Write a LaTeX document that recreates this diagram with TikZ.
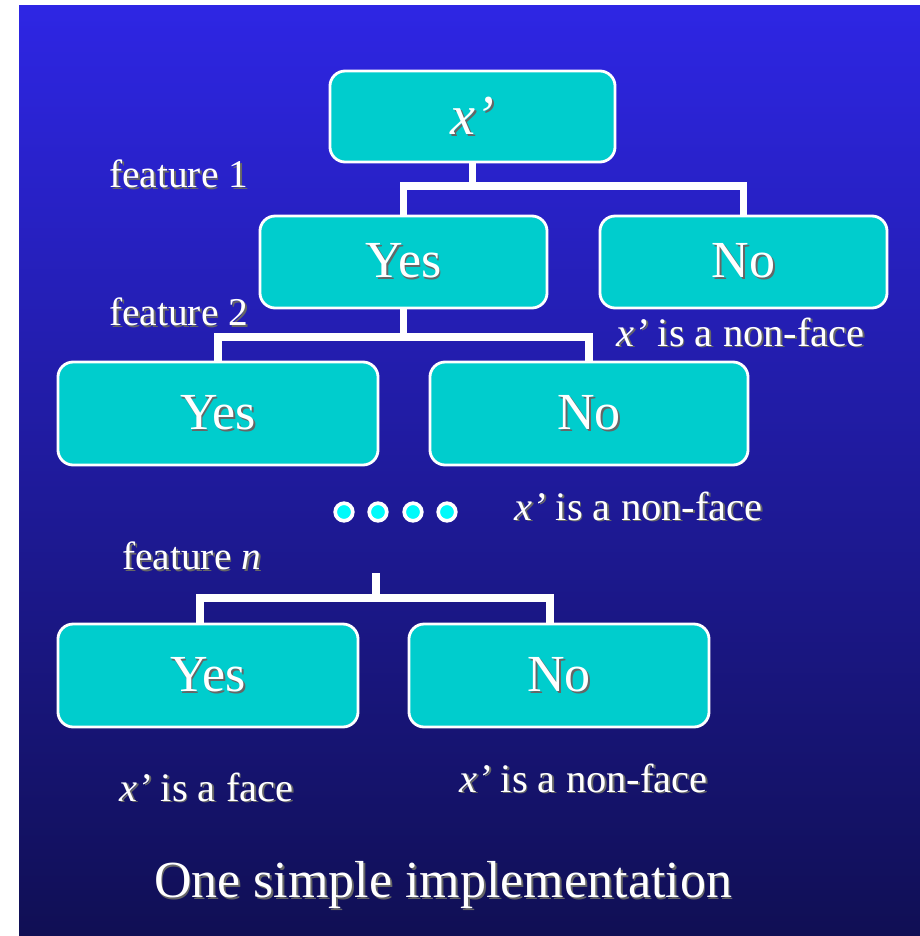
\documentclass[tikz,border=0pt]{standalone}
\usepackage{fontspec}
\setmainfont{Liberation Serif}
\usepackage{tikz}
\usepackage{xcolor}

\definecolor{bgtop}{RGB}{46,38,228}
\definecolor{bgbot}{RGB}{16,15,84}
\definecolor{boxcyan}{RGB}{0,205,205}
\definecolor{dotcyan}{RGB}{0,250,250}
\newcommand{\shd}[1]{\rlap{\kern1.3pt\raisebox{-1.3pt}{\color{black!60}#1}}#1}

\begin{document}
\begin{tikzpicture}[x=0.025cm, y=-0.025cm,
  box/.style={draw=white, line width=2pt, rounded corners=0.38cm, fill=boxcyan,
    text=white, font=\fontsize{37}{40}\selectfont, inner sep=0pt},
  link/.style={draw=white, line width=5pt},
  lbl/.style={text=white, font=\fontsize{28}{32}\selectfont, inner sep=0pt},
  dot/.style={circle, draw=white, line width=2.6pt, fill=dotcyan, minimum size=0.44cm, inner sep=0pt}]
\useasboundingbox (0,0) rectangle (920,936);
\fill[white] (0,0) rectangle (920,936);
\shade[top color=bgtop, bottom color=bgbot] (19,5) rectangle (920,936);

\node[box, minimum width=7.125cm, minimum height=2.275cm, font=\fontsize{40}{44}\selectfont] (root) at (472.5,116.5) {\shd{\textit{x’}}};
\node[box, minimum width=7.175cm, minimum height=2.3cm] (yesA) at (403.5,262) {\shd{Yes}};
\node[box, minimum width=7.175cm, minimum height=2.3cm] (noA) at (743.5,262) {\shd{No}};
\node[box, minimum width=8cm, minimum height=2.575cm] (yesB) at (218,413.5) {\shd{Yes}};
\node[box, minimum width=7.95cm, minimum height=2.575cm] (noB) at (589,413.5) {\shd{No}};
\node[box, minimum width=7.5cm, minimum height=2.575cm] (yesC) at (208,675.5) {\shd{Yes}};
\node[box, minimum width=7.5cm, minimum height=2.575cm] (noC) at (559,675.5) {\shd{No}};

% split points
\coordinate (splitA) at (root.south |- 0,186);
\coordinate (splitB) at (yesA.south |- 0,337);
\coordinate (stubC) at (376,573);
\coordinate (splitC) at (376,598);

\draw[link] (root.south) -- (splitA);
\draw[link] (yesA.north) |- (splitA) -| (noA.north);
\draw[link] (yesA.south) -- (splitB);
\draw[link] (yesB.north) |- (splitB) -| (noB.north);
\draw[link] (stubC) -- (splitC);
\draw[link] ([xshift=-0.2cm]yesC.north) |- (splitC) -| ([xshift=-0.225cm]noC.north);

\foreach \i/\x in {1/344, 2/378, 3/413, 4/447}
  \node[dot] (dot\i) at (\x,512) {};

\node[lbl, anchor=west] (featA) at (109,175) {\shd{feature 1}};
\node[lbl, anchor=west] (featB) at (109,313) {\shd{feature 2}};
\node[lbl, anchor=west] (featN) at (122,557) {\shd{feature \textit{n}}};
\node[lbl, anchor=west, font=\fontsize{28.8}{32}\selectfont] (nonA) at (616,333) {\shd{\textit{x’} is a non-face}};
\node[lbl, anchor=west, font=\fontsize{28.8}{32}\selectfont] (nonB) at (514,507) {\shd{\textit{x’} is a non-face}};
\node[lbl, anchor=west, font=\fontsize{28.8}{32}\selectfont] (face) at (119,788) {\shd{\textit{x’} is a face}};
\node[lbl, anchor=west, font=\fontsize{28.8}{32}\selectfont] (nonC) at (459,779) {\shd{\textit{x’} is a non-face}};
\node[lbl, font=\fontsize{37}{40}\selectfont] (title) at (443,886) {\shd{One simple implementation}};
\end{tikzpicture}
\end{document}
